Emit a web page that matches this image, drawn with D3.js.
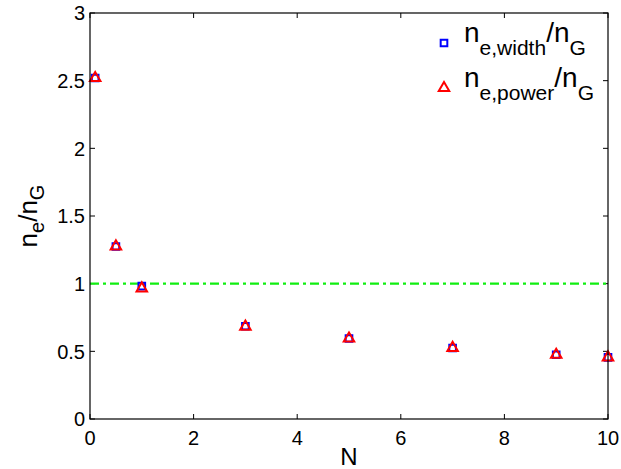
<!DOCTYPE html>
<html>
<head>
<meta charset="utf-8">
<script src="https://cdn.jsdelivr.net/npm/d3@7"></script>
<style>
  body { margin: 0; background: #fff; }
  text { font-family: "Liberation Sans", Arial, sans-serif; fill: #000; }
</style>
</head>
<body>
<div id="graf"></div>
<script>
// datos
N_valores = [0.1, 0.5, 1, 3, 5, 7, 9, 10]
ne_width = [2.52, 1.275, 0.982, 0.685, 0.595, 0.525, 0.475, 0.455]
ne_power = [2.52, 1.275, 0.965, 0.682, 0.595, 0.525, 0.475, 0.455]
xTicks = [0, 2, 4, 6, 8, 10]
yTicks = [0, 0.5, 1, 1.5, 2, 2.5, 3]
referencia = 1

ancho_total = 621
alto_total = 469
margins = { top: 13, left: 90, right: 13, bottom: 50 }
ancho = ancho_total - margins.left - margins.right
alto = alto_total - margins.top - margins.bottom

svg = d3.select('#graf').append('svg')
  .attr('width', ancho_total)
  .attr('height', alto_total)

g = svg.append('g')
  .attr('transform', `translate(${margins.left}, ${margins.top})`)

x = d3.scaleLinear().domain([0, 10]).range([0, ancho])
y = d3.scaleLinear().domain([0, 3]).range([alto, 0])

// ticks hacia adentro en los cuatro lados
tick = 5
ejes = g.append('g').attr('stroke', '#000').attr('stroke-width', 1)
xTicks.forEach(t => {
  ejes.append('line').attr('x1', x(t)).attr('x2', x(t)).attr('y1', alto).attr('y2', alto - tick)
  ejes.append('line').attr('x1', x(t)).attr('x2', x(t)).attr('y1', 0).attr('y2', tick)
})
yTicks.forEach(t => {
  ejes.append('line').attr('x1', 0).attr('x2', tick).attr('y1', y(t)).attr('y2', y(t))
  ejes.append('line').attr('x1', ancho).attr('x2', ancho - tick).attr('y1', y(t)).attr('y2', y(t))
})

g.selectAll('.xlab').data(xTicks).enter().append('text')
  .attr('x', d => x(d))
  .attr('y', alto + 26)
  .attr('text-anchor', 'middle')
  .style('font-size', '20px')
  .text(d => d)

g.selectAll('.ylab').data(yTicks).enter().append('text')
  .attr('x', -5)
  .attr('y', d => y(d))
  .attr('dy', '0.36em')
  .attr('text-anchor', 'end')
  .style('font-size', '20px')
  .text(d => d)

// línea de referencia
g.append('line')
  .attr('x1', 0).attr('x2', ancho)
  .attr('y1', y(referencia)).attr('y2', y(referencia))
  .attr('stroke', '#11ee11')
  .attr('stroke-width', 2.2)
  .attr('stroke-dasharray', '9,4,3,4')

cuadro = d3.symbol().type(d3.symbolSquare).size(44)
triangulo = d3.symbol().type(d3.symbolTriangle).size(48)

g.selectAll('.sq').data(N_valores).enter().append('path')
  .attr('d', cuadro)
  .attr('transform', (d, i) => `translate(${x(d)}, ${y(ne_width[i])})`)
  .attr('fill', 'none')
  .attr('stroke', '#0000ff')
  .attr('stroke-width', 2)

g.selectAll('.tri').data(N_valores).enter().append('path')
  .attr('d', triangulo)
  .attr('transform', (d, i) => `translate(${x(d)}, ${y(ne_power[i])})`)
  .attr('fill', 'none')
  .attr('stroke', '#ff0000')
  .attr('stroke-width', 2)

// marco
g.append('rect')
  .attr('width', ancho).attr('height', alto)
  .attr('fill', 'none').attr('stroke', '#000').attr('stroke-width', 1.2)

// títulos de ejes
svg.append('text')
  .attr('x', margins.left + ancho / 2)
  .attr('y', 465)
  .attr('text-anchor', 'middle')
  .style('font-size', '24px')
  .text('N')

ylab = svg.append('text')
  .attr('transform', `translate(37, ${margins.top + alto / 2}) rotate(-90)`)
  .attr('text-anchor', 'middle')
  .style('font-size', '26px')
ylab.append('tspan').text('n')
ylab.append('tspan').attr('dy', 7).style('font-size', '20px').text('e')
ylab.append('tspan').attr('dy', -7).text('/n')
ylab.append('tspan').attr('dy', 7).style('font-size', '20px').text('G')

// leyenda
leyenda = [
  { sym: cuadro, color: '#0000ff', sub: 'e,width', y: 43 },
  { sym: triangulo, color: '#ff0000', sub: 'e,power', y: 88 }
]
leyenda.forEach(l => {
  svg.append('path')
    .attr('d', l.sym)
    .attr('transform', `translate(444, ${l.y})`)
    .attr('fill', 'none')
    .attr('stroke', l.color)
    .attr('stroke-width', 2)
  t = svg.append('text')
    .attr('x', 464)
    .attr('y', l.y - 1)
    .style('font-size', '28px')
  t.append('tspan').text('n')
  t.append('tspan').attr('dy', 13).style('font-size', '21px').text(l.sub)
  t.append('tspan').attr('dy', -13).text('/n')
  t.append('tspan').attr('dy', 13).style('font-size', '21px').text('G')
})
</script>
</body>
</html>
